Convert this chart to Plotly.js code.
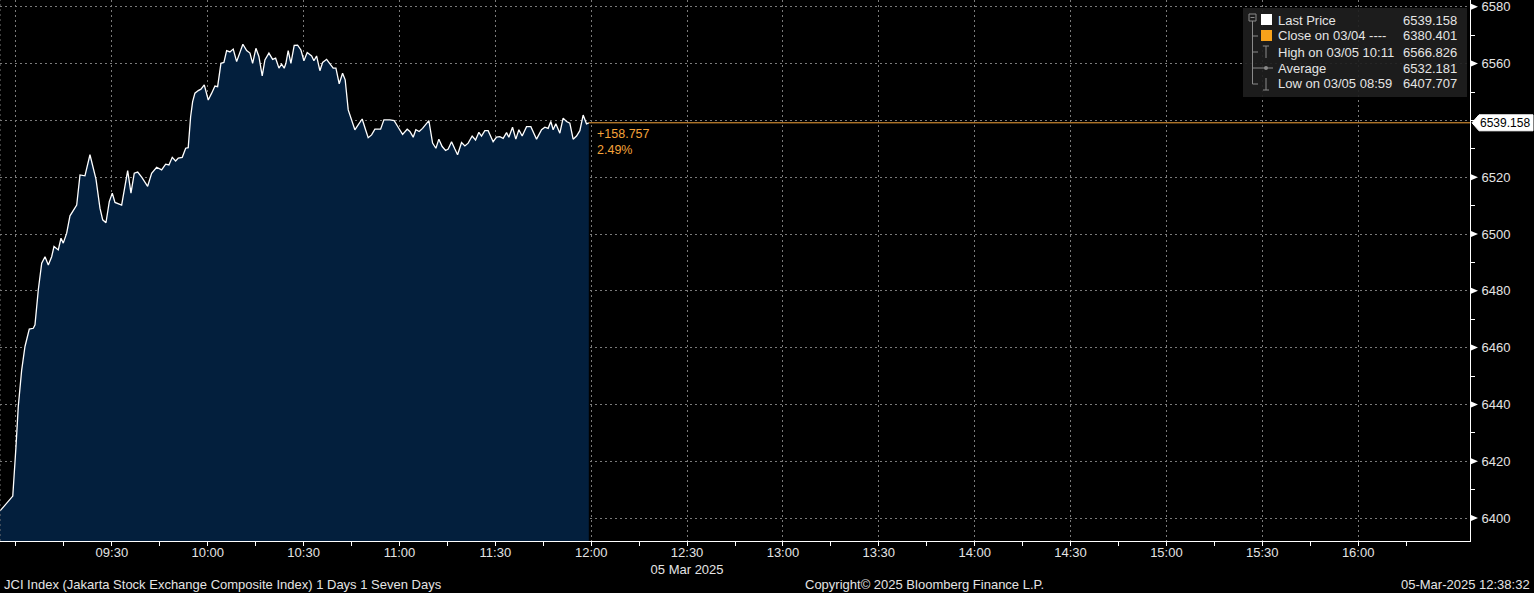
<!DOCTYPE html>
<html><head><meta charset="utf-8">
<script src="https://cdn.plot.ly/plotly-3.0.1.min.js"></script>
<style>html,body{margin:0;padding:0;background:#000;overflow:hidden}#chart{width:1534px;height:593px}</style>
</head><body><div id="chart"></div>
<script>
// ---------------- data ----------------
const tradeDate = '2025-03-05';
const times = ['08:55:00','08:59:00','09:00:00','09:00:43','09:01:47','09:02:49','09:04:10','09:05:25','09:05:57','09:06:59','09:08:03',
'09:09:05','09:10:07','09:11:10','09:11:54','09:13:14','09:14:05','09:14:48','09:15:52','09:16:54','09:19:00','09:20:02','09:21:35',
'09:23:09','09:25:02','09:26:17','09:27:08','09:28:10','09:29:12','09:30:08','09:30:59','09:33:04','09:34:57','09:35:59','09:37:01',
'09:38:05','09:39:20','09:41:12','09:42:27','09:44:01','09:45:35','09:46:50','09:47:52','09:48:54','09:49:58','09:50:47','09:52:02',
'09:53:06','09:53:54','09:54:39','09:55:17','09:56:00','09:57:02','09:57:53','09:58:55','10:00:10','10:01:14','10:02:16','10:03:06',
'10:04:08','10:05:04','10:05:55','10:06:57','10:07:59','10:09:03','10:11:00','10:12:11','10:13:13','10:14:03','10:15:05','10:16:01',
'10:17:03','10:17:54','10:19:09','10:20:19','10:21:15','10:22:17','10:23:07','10:23:56','10:24:28','10:25:11','10:26:02','10:27:04',
'10:28:08','10:29:10','10:30:06','10:31:08','10:32:31','10:33:14','10:34:04','10:35:06','10:35:57','10:37:12','10:38:14','10:39:16',
'10:40:07','10:41:09','10:42:12','10:43:01','10:43:58','10:45:01','10:46:03','10:47:05','10:48:20','10:49:24','10:50:13','10:51:17',
'10:52:19','10:54:06','10:55:08','10:57:00','10:58:21','10:59:36','11:00:59','11:02:25','11:03:16','11:04:18','11:05:08','11:06:10',
'11:07:14','11:09:12','11:10:22','11:11:24','11:12:20','11:13:22','11:14:26','11:15:15','11:16:18','11:17:20','11:18:11','11:19:26',
'11:20:28','11:21:30','11:22:45','11:23:49','11:24:51','11:25:41','11:26:43','11:27:45','11:29:19','11:30:23','11:31:25','11:32:27',
'11:33:31','11:34:14','11:35:23','11:36:25','11:37:22','11:38:24','11:39:46','11:41:07','11:42:54','11:44:28','11:45:30','11:46:32',
'11:47:22','11:48:06','11:48:56','11:50:11','11:51:13','11:52:17','11:53:19','11:54:21','11:55:25','11:56:27','11:57:29','11:58:32',
'11:59:15'];
const prices = [6402.5,6407.707,6425.1,6439.2,6452.1,6460.4,6466.5,6466.8,6468.0,6480.3,6489.7,
6492.0,6489.1,6492.0,6495.6,6494.4,6498.5,6496.8,6500.3,6506.4,6510.2,6520.8,6520.5,
6527.9,6519.3,6509.1,6505.0,6504.0,6511.4,6514.4,6511.1,6510.2,6522.3,6514.4,6521.4,
6521.8,6520.0,6516.8,6521.4,6523.5,6522.6,6524.6,6524.3,6527.0,6525.7,6526.7,6527.0,
6530.2,6530.4,6541.3,6546.6,6549.6,6550.5,6551.0,6552.5,6547.2,6549.6,6552.1,6551.9,
6560.1,6560.4,6564.6,6564.1,6565.1,6560.7,6566.826,6564.6,6563.7,6560.1,6565.4,6562.5,
6555.7,6561.3,6563.7,6561.5,6561.9,6558.4,6559.8,6558.4,6560.1,6564.6,6560.1,6566.4,
6566.5,6564.8,6561.0,6563.9,6562.7,6561.0,6562.7,6557.5,6560.4,6561.5,6560.1,6558.4,
6558.4,6552.9,6556.6,6554.3,6543.7,6540.2,6536.7,6538.4,6540.5,6536.7,6533.9,6534.9,
6536.9,6536.9,6540.2,6540.2,6539.9,6537.6,6535.1,6536.9,6536.1,6534.1,6536.7,6536.1,
6537.2,6539.9,6532.0,6530.2,6533.4,6530.8,6529.4,6529.9,6532.5,6529.9,6527.9,6532.2,
6531.0,6532.0,6534.5,6533.1,6535.8,6534.5,6536.4,6536.4,6532.5,6534.1,6534.3,6533.7,
6535.7,6534.1,6537.6,6533.4,6536.7,6534.5,6537.8,6537.8,6533.4,6536.7,6537.6,6537.2,
6539.6,6536.7,6538.8,6535.5,6540.8,6539.6,6539.0,6533.4,6534.5,6536.4,6541.9,6538.8,
6539.158];
const yTickVals = [6400,6420,6440,6460,6480,6500,6520,6540,6560,6580];
const xTickLabels = ['09:00','09:30','10:00','10:30','11:00','11:30','12:00','12:30','13:00','13:30','14:00','14:30','15:00','15:30','16:00'];
const dateLabel = '05 Mar 2025';
const prevClose = 6380.401;
const highValue = 6566.826, highStamp = '03/05 10:11';
const lowValue = 6407.707, lowStamp = '03/05 08:59';
const avgValue = 6532.181;
const closeStamp = '03/04';
const footerLeft = 'JCI Index (Jakarta Stock Exchange Composite Index) 1 Days 1 Seven Days';
const footerCenter = 'Copyright\u00a9 2025 Bloomberg Finance L.P.';
const footerRight = '05-Mar-2025 12:38:32';

// ---------------- layout helpers ----------------
const W = 1534, H = 593, ML = 0, MR = 64, MT = 0, MB = 52;
const PW = W - ML - MR, PH = H - MT - MB;
const px = x => (x - ML) / PW;
const py = y => 1 - (y - MT) / PH;
const FONT = 'Liberation Sans, Arial, sans-serif';
const TXT = '#e4e4e4';
const ORANGE = '#f5a33a';

const xs = times.map(t => tradeDate + ' ' + t);
const lastPrice = prices[prices.length - 1];
const lastTime = xs[xs.length - 1];
const xRange = [tradeDate + ' 08:55:00', tradeDate + ' 16:35:00'];
const chg = lastPrice - prevClose;
const pct = chg / prevClose * 100;

const minorX = [];
for (let m = 9 * 60 - 15; m <= 16 * 60 + 15; m += 15) {
  minorX.push(tradeDate + ' ' + String(Math.floor(m / 60)).padStart(2, '0') + ':' + String(m % 60).padStart(2, '0'));
}

const trace = {
  x: xs, y: prices, type: 'scatter', mode: 'lines',
  line: {color: '#ffffff', width: 1.3},
  fill: 'tozeroy', fillcolor: '#031f3d',
  hoverinfo: 'skip', showlegend: false
};

const shapes = [];
const annotations = [];

// left dotted border
shapes.push({type: 'line', xref: 'paper', yref: 'paper', x0: 0, x1: 0, y0: 0, y1: 1,
  line: {color: '#7a7a7a', width: 1, dash: '2px,3px'}});
// last price line
shapes.push({type: 'line', xref: 'x', yref: 'y', x0: lastTime, x1: xRange[1], y0: lastPrice, y1: lastPrice,
  line: {color: ORANGE, width: 1}});
// tick triangles on right axis
yTickVals.forEach(v => {
  if (v === 6540) return;
  shapes.push({type: 'path', xref: 'paper', yref: 'y', xsizemode: 'pixel', ysizemode: 'pixel',
    xanchor: 1, yanchor: v, path: 'M 1 3 L 8 0 L 1 -3 Z', fillcolor: '#ffffff', line: {width: 0}});
});
// last price label box
shapes.push({type: 'path', xref: 'paper', yref: 'y', xsizemode: 'pixel', ysizemode: 'pixel',
  xanchor: 1, yanchor: lastPrice, path: 'M 2 0 L 9 8 L 63 8 L 63 -8 L 9 -8 Z',
  fillcolor: '#ffffff', line: {color: '#ffffff', width: 1}});
annotations.push({xref: 'paper', yref: 'y', x: px(1478), y: lastPrice, xanchor: 'left', yanchor: 'middle',
  text: lastPrice.toFixed(3), showarrow: false, font: {family: FONT, size: 12, color: '#000000'}});
// change annotation
annotations.push({xref: 'x', yref: 'y', x: lastTime, y: lastPrice, xanchor: 'left', yanchor: 'top',
  xshift: 6, yshift: -2, align: 'left', showarrow: false,
  text: (chg >= 0 ? '+' : '') + chg.toFixed(3) + '<br>' + pct.toFixed(2) + '%',
  font: {family: FONT, size: 12.5, color: ORANGE}});

// legend box
shapes.push({type: 'rect', xref: 'paper', yref: 'paper', x0: px(1243), x1: px(1467), y0: py(97), y1: py(8),
  fillcolor: 'rgba(30,30,30,0.92)', line: {width: 0}, layer: 'above'});
// tree decoration
const G = '#8a8a8a';
shapes.push({type: 'rect', xref: 'paper', yref: 'paper', x0: px(1249), x1: px(1256), y0: py(21), y1: py(14),
  line: {color: G, width: 1}, layer: 'above'});
shapes.push({type: 'line', xref: 'paper', yref: 'paper', x0: px(1250.5), x1: px(1254.5), y0: py(17.5), y1: py(17.5),
  line: {color: G, width: 1}, layer: 'above'});
shapes.push({type: 'line', xref: 'paper', yref: 'paper', x0: px(1252.5), x1: px(1252.5), y0: py(21), y1: py(84),
  line: {color: G, width: 1}, layer: 'above'});
[36, 52, 68, 84].forEach(r => shapes.push({type: 'line', xref: 'paper', yref: 'paper', x0: px(1252.5), x1: px(1258), y0: py(r), y1: py(r),
  line: {color: G, width: 1}, layer: 'above'}));
// icons
shapes.push({type: 'rect', xref: 'paper', yref: 'paper', x0: px(1261), x1: px(1272), y0: py(25), y1: py(14),
  fillcolor: '#ffffff', line: {width: 0}, layer: 'above'});
shapes.push({type: 'rect', xref: 'paper', yref: 'paper', x0: px(1261), x1: px(1272), y0: py(41), y1: py(30),
  fillcolor: '#f7a21b', line: {width: 0}, layer: 'above'});
shapes.push({type: 'line', xref: 'paper', yref: 'paper', x0: px(1263), x1: px(1269), y0: py(46), y1: py(46), line: {color: G, width: 1}, layer: 'above'});
shapes.push({type: 'line', xref: 'paper', yref: 'paper', x0: px(1266), x1: px(1266), y0: py(46), y1: py(58), line: {color: G, width: 1}, layer: 'above'});
shapes.push({type: 'line', xref: 'paper', yref: 'paper', x0: px(1258), x1: px(1273), y0: py(68), y1: py(68), line: {color: G, width: 1}, layer: 'above'});
shapes.push({type: 'circle', xref: 'paper', yref: 'paper', x0: px(1264), x1: px(1268), y0: py(70), y1: py(66), fillcolor: G, line: {width: 0}, layer: 'above'});
shapes.push({type: 'line', xref: 'paper', yref: 'paper', x0: px(1266), x1: px(1266), y0: py(78), y1: py(90), line: {color: G, width: 1}, layer: 'above'});
shapes.push({type: 'line', xref: 'paper', yref: 'paper', x0: px(1263), x1: px(1269), y0: py(90), y1: py(90), line: {color: G, width: 1}, layer: 'above'});

const legendRows = [
  ['Last Price', lastPrice],
  ['Close on ' + closeStamp + ' ----', prevClose],
  ['High on ' + highStamp, highValue],
  ['Average', avgValue],
  ['Low on ' + lowStamp, lowValue]
];
legendRows.forEach((r, i) => {
  const yy = py(20 + i * 16);
  annotations.push({xref: 'paper', yref: 'paper', x: px(1276), y: yy, xanchor: 'left', yanchor: 'middle',
    text: r[0], showarrow: false, font: {family: FONT, size: 13, color: TXT}});
  annotations.push({xref: 'paper', yref: 'paper', x: px(1459), y: yy, xanchor: 'right', yanchor: 'middle',
    text: r[1].toFixed(3), showarrow: false, font: {family: FONT, size: 13, color: TXT}});
});

// footer
annotations.push({xref: 'paper', yref: 'paper', x: px(2), y: py(584), xanchor: 'left', yanchor: 'middle',
  text: footerLeft, showarrow: false, font: {family: FONT, size: 13, color: TXT}});
annotations.push({xref: 'paper', yref: 'paper', x: px(924), y: py(584), xanchor: 'center', yanchor: 'middle',
  text: footerCenter, showarrow: false, font: {family: FONT, size: 13, color: TXT}});
annotations.push({xref: 'paper', yref: 'paper', x: px(1532), y: py(584), xanchor: 'right', yanchor: 'middle',
  text: footerRight, showarrow: false, font: {family: FONT, size: 13, color: TXT}});

const xTickVals = xTickLabels.map(t => tradeDate + ' ' + t);
const xTickText = xTickLabels.map((t, i) => i === 0 ? '' : (t === '12:30' ? t + '<br>' + dateLabel : t));

const layout = {
  width: W, height: H, autosize: false,
  margin: {l: ML, r: MR, t: MT, b: MB, pad: 0},
  paper_bgcolor: '#000000', plot_bgcolor: '#000000',
  font: {family: FONT, size: 13, color: TXT},
  showlegend: false,
  xaxis: {
    type: 'date', range: xRange, tickmode: 'array', tickvals: xTickVals, ticktext: xTickText,
    showgrid: true, gridcolor: '#7a7a7a', gridwidth: 1, griddash: '2px,3px',
    showline: true, linecolor: '#ffffff', linewidth: 1,
    ticks: 'outside', ticklen: 4, tickcolor: '#ffffff', tickwidth: 1,
    ticklabelstandoff: -5,
    minor: {tickmode: 'array', tickvals: minorX, ticks: 'outside', ticklen: 4, tickcolor: '#ffffff', showgrid: false},
    tickfont: {family: FONT, size: 13, color: TXT},
    zeroline: false, layer: 'above traces', fixedrange: true
  },
  yaxis: {
    side: 'right', range: [6391.9, 6582.4], tickmode: 'array', tickvals: yTickVals,
    ticktext: yTickVals.map(v => v === 6540 ? '' : String(v)),
    showgrid: true, gridcolor: '#7a7a7a', gridwidth: 1, griddash: '2px,3px',
    showline: true, linecolor: '#ffffff', linewidth: 1,
    ticks: 'outside', ticklen: 8, tickcolor: 'rgba(0,0,0,0)', tickwidth: 1,
    ticklabeloverflow: 'allow',
    minor: {dtick: 10, tick0: 6390, ticks: 'outside', ticklen: 4, tickcolor: '#ffffff', showgrid: false},
    tickfont: {family: FONT, size: 13, color: TXT},
    zeroline: false, layer: 'above traces', fixedrange: true
  },
  shapes: shapes,
  annotations: annotations
};

Plotly.newPlot('chart', [trace], layout, {displayModeBar: false, staticPlot: true});
</script>
</body></html>
